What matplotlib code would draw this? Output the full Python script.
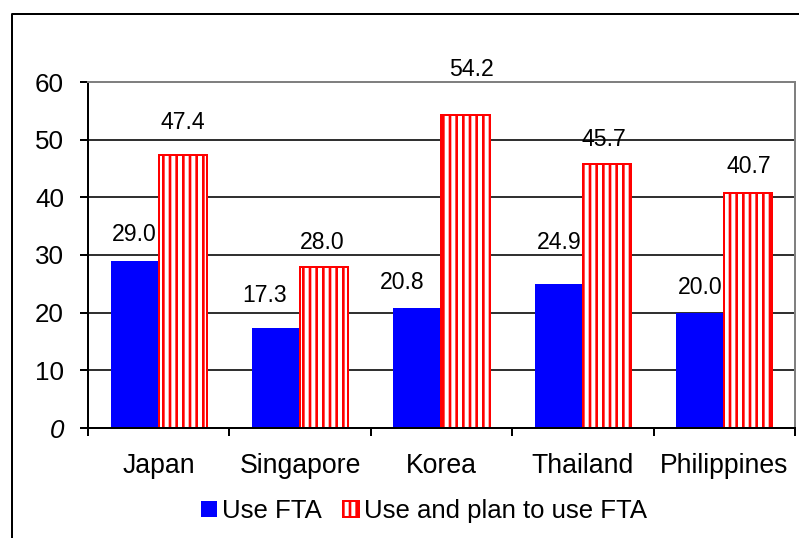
import matplotlib
matplotlib.use("Agg")
import matplotlib.pyplot as plt
from matplotlib.patches import Patch
from matplotlib.lines import Line2D
import numpy as np

categories = ["Japan", "Singapore", "Korea", "Thailand", "Philippines"]
use_fta = [29.0, 17.3, 20.8, 24.9, 20.0]
use_plan_fta = [47.4, 28.0, 54.2, 45.7, 40.7]
series_names = ["Use FTA", "Use and plan to use FTA"]
yticks = [0, 10, 20, 30, 40, 50, 60]

# label layout (px offsets from bar center, data-unit gap above bar)
blue_dx = [0, -11, -15, 0, 0]
blue_dy = [4.5, 5.6, 4.5, 7.35, 4.3]
red_dx = [0, -2, 6, -3, 0]
red_dy = [5.5, 4.25, 8.05, 4.4, 4.6]

DPI = 80
W, H = 799, 538
plt.rcParams['font.family'] = ['Liberation Sans', 'DejaVu Sans']
plt.rcParams['hatch.linewidth'] = 2.4
plt.rcParams['hatch.color'] = 'red'

def px2pt(px):
    return px * 72.0 / DPI

fig = plt.figure(figsize=(W / DPI, H / DPI), dpi=DPI)
ax = fig.add_axes([88 / W, 1 - 428 / H, (795 - 88) / W, (428 - 82) / H])

x = np.arange(len(categories))
bw = 0.34
ax.bar(x - bw / 2, use_fta, width=bw, color='#0000FF', edgecolor='none', zorder=3)
ax.bar(x + bw / 2, use_plan_fta, width=bw, color='white', edgecolor='red',
       hatch='||', linewidth=px2pt(2), zorder=3)

fs_lab = px2pt(23)
for i in range(len(categories)):
    ax.annotate(f"{use_fta[i]:.1f}", (x[i] - bw / 2, use_fta[i] + blue_dy[i]),
                xytext=(px2pt(blue_dx[i]), 0), textcoords='offset points',
                ha='center', va='center', fontsize=fs_lab, color='black', zorder=5)
    ax.annotate(f"{use_plan_fta[i]:.1f}", (x[i] + bw / 2, use_plan_fta[i] + red_dy[i]),
                xytext=(px2pt(red_dx[i]), 0), textcoords='offset points',
                ha='center', va='center', fontsize=fs_lab, color='black', zorder=5,
                annotation_clip=False)

ax.set_xlim(-0.5, len(categories) - 0.5)
ax.set_ylim(0, 60)

ax.set_yticks(yticks)
ax.set_yticklabels([str(v) for v in yticks], fontsize=px2pt(26))
for lbl in ax.get_yticklabels():
    if lbl.get_text() == "0":
        lbl.set_style('italic')
ax.tick_params(axis='y', direction='out', length=px2pt(8), width=px2pt(2),
               pad=px2pt(16), color='black')

ax.set_xticks(x)
ax.set_xticklabels(categories, fontsize=px2pt(26.7))
ax.set_xticks(np.arange(-0.5, len(categories)), minor=True)
ax.tick_params(axis='x', which='major', length=0, pad=px2pt(25))
ax.tick_params(axis='x', which='minor', direction='out', length=px2pt(8),
               width=px2pt(2), color='black')

ax.yaxis.grid(True, color='black', linewidth=px2pt(1.6))
ax.set_axisbelow(True)

for s in ['left', 'bottom']:
    ax.spines[s].set_color('black')
    ax.spines[s].set_linewidth(px2pt(2))
for s in ['top', 'right']:
    ax.spines[s].set_color('#808080')
    ax.spines[s].set_linewidth(px2pt(2))
ax.spines['bottom'].set_zorder(6)

handles = [Patch(facecolor='#0000FF', edgecolor='none'),
           Patch(facecolor='white', edgecolor='red', hatch='||', linewidth=px2pt(2))]
fig.legend(handles, series_names, loc='center', bbox_to_anchor=(424 / W, 1 - 511 / H),
           ncol=2, frameon=False, fontsize=px2pt(25.7), handlelength=0.63,
           handleheight=0.63, handletextpad=0.2, columnspacing=0.8,
           borderaxespad=0, borderpad=0)

fig.add_artist(Line2D([11.5 / W, 11.5 / W, 1.0], [0, 1 - 14 / H, 1 - 14 / H],
                      transform=fig.transFigure, color='black', linewidth=px2pt(2)))

fig.savefig("out.png", dpi=DPI)
